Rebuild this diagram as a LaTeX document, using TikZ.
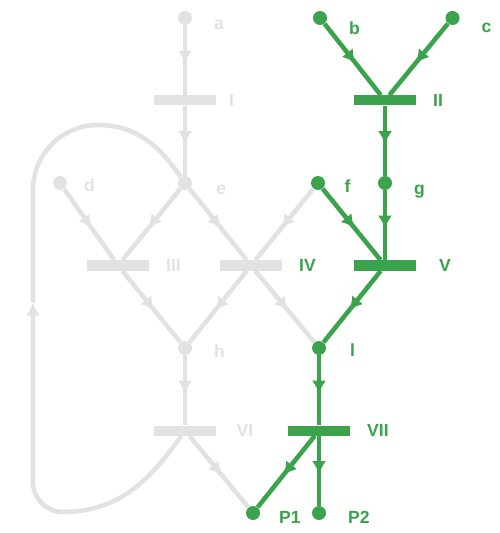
\documentclass[tikz,border=0pt]{standalone}
\usepackage{fontspec}
\setmainfont{Liberation Sans}
\usetikzlibrary{arrows.meta,decorations.markings}

\definecolor{netgreen}{RGB}{58,163,75}
\definecolor{netgrey}{RGB}{226,226,226}

\tikzset{
  place/.style={circle, fill=#1, minimum size=0.28cm, inner sep=0pt},
  bar/.style={rectangle, fill=#1, minimum width=1.24cm, minimum height=0.2cm, inner sep=0pt},
  lbl/.style={font=\bfseries\fontsize{10}{12}\selectfont, text=#1, inner sep=0pt, xshift=0.33cm},
  plbl/.style={font=\bfseries\fontsize{10}{12}\selectfont, text=#1, inner sep=0pt, xshift=0.43cm, yshift=-0.14cm},
  midarrow/.style={postaction={decorate}, decoration={markings, mark=at position 0.55 with {\arrow{Latex[length=2.6mm,width=2.8mm]}}}},
  flow/.style={draw=#1, line width=2.6pt, midarrow},
}

\begin{document}
\begin{tikzpicture}[node distance=1.65cm, auto]
  \useasboundingbox (0,0) rectangle (10,-10.66);

  % grey part of the net
  \node (a) [place=netgrey, label={[plbl=netgrey]right:a}] at (3.7,-0.36) {};
  \node (I) [bar=netgrey, below of=a, label={[lbl=netgrey, xshift=-0.08cm]right:I}] {};
  \node (e) [place=netgrey, below of=I, label={[plbl=netgrey, xshift=0.04cm]right:e}] {};
  \node (d) [place=netgrey, left of=e, xshift=-0.85cm, label={[plbl=netgrey, xshift=-0.1cm, yshift=0.1cm]right:d}] {};
  \node (III) [bar=netgrey, below of=e, xshift=-1.34cm, label={[lbl=netgrey]right:III}] {};
  \node (IV) [bar=netgrey, below of=e, xshift=1.32cm, label={[lbl=netgreen]right:IV}] {};
  \node (h) [place=netgrey, below of=e, yshift=-1.65cm, label={[plbl=netgrey, yshift=0.08cm]right:h}] {};
  \node (VI) [bar=netgrey, below of=h, label={[lbl=netgrey, xshift=0.07cm]right:VI}] {};

  % green part of the net
  \node (b) [place=netgreen, right of=a, xshift=1.05cm, label={[plbl=netgreen, yshift=-0.06cm]right:b}] {};
  \node (c) [place=netgreen, right of=b, xshift=1cm, label={[plbl=netgreen, yshift=-0.06cm]right:c}] {};
  \node (II) [bar=netgreen, below of=b, xshift=1.3cm, label={[lbl=netgreen]right:II}] {};
  \node (g) [place=netgreen, below of=II, label={[plbl=netgreen, yshift=-0.04cm]right:g}] {};
  \node (f) [place=netgreen, left of=g, xshift=0.31cm, label={[plbl=netgreen, xshift=-0.05cm, yshift=0.08cm]right:f}] {};
  \node (V) [bar=netgreen, below of=g, label={[lbl=netgreen, xshift=0.12cm]right:V}] {};
  \node (l) [place=netgreen, below of=V, xshift=-1.32cm, label={[plbl=netgreen, xshift=0.04cm, yshift=0.1cm]right:l}] {};
  \node (VII) [bar=netgreen, below of=l, label={[lbl=netgreen]right:VII}] {};
  \node (P2) [place=netgreen, below of=VII, label={[plbl=netgreen, yshift=0.06cm]right:P2}] {};
  \node (P1) [place=netgreen, below of=VI, xshift=1.36cm, label={[plbl=netgreen, xshift=-0.06cm, yshift=0.06cm]right:P1}] {};

  \draw[flow=netgrey] (a) -- (I);
  \draw[flow=netgrey] (I) -- (e);
  \draw[flow=netgrey] (d) -- (III);
  \draw[flow=netgrey] (e) -- (III);
  \draw[flow=netgrey] (e) -- (IV);
  \draw[flow=netgrey] (f) -- (IV);
  \draw[flow=netgrey] (III) -- (h);
  \draw[flow=netgrey] (IV) -- (h);
  \draw[flow=netgrey] (IV) -- (l);
  \draw[flow=netgrey] (h) -- (VI);
  \draw[flow=netgrey] (VI) -- (P1);

  % loop back from VI to e
  \coordinate (loopa) at (1.26,-10.24);
  \coordinate (loopb) at (0.66,-6.05);
  \coordinate (loopc) at (0.66,-3.8);
  \draw[netgrey, line width=2.6pt, -{Latex[length=2.6mm,width=2.8mm]}] (VI) to[out=-125, in=0] (loopa)
    arc[start angle=270, end angle=180, radius=0.6cm] -- (loopb);
  \draw[netgrey, line width=2.6pt] (loopb) -- (loopc)
    arc[start angle=180, end angle=90, radius=1.3cm] to[out=0, in=125] (e);

  \draw[flow=netgreen] (b) -- (II);
  \draw[flow=netgreen] (c) -- (II);
  \draw[flow=netgreen] (II) -- (g);
  \draw[flow=netgreen] (g) -- (V);
  \draw[flow=netgreen] (f) -- (V);
  \draw[flow=netgreen] (V) -- (l);
  \draw[flow=netgreen] (l) -- (VII);
  \draw[flow=netgreen] (VII) -- (P1);
  \draw[flow=netgreen] (VII) -- (P2);
\end{tikzpicture}
\end{document}
